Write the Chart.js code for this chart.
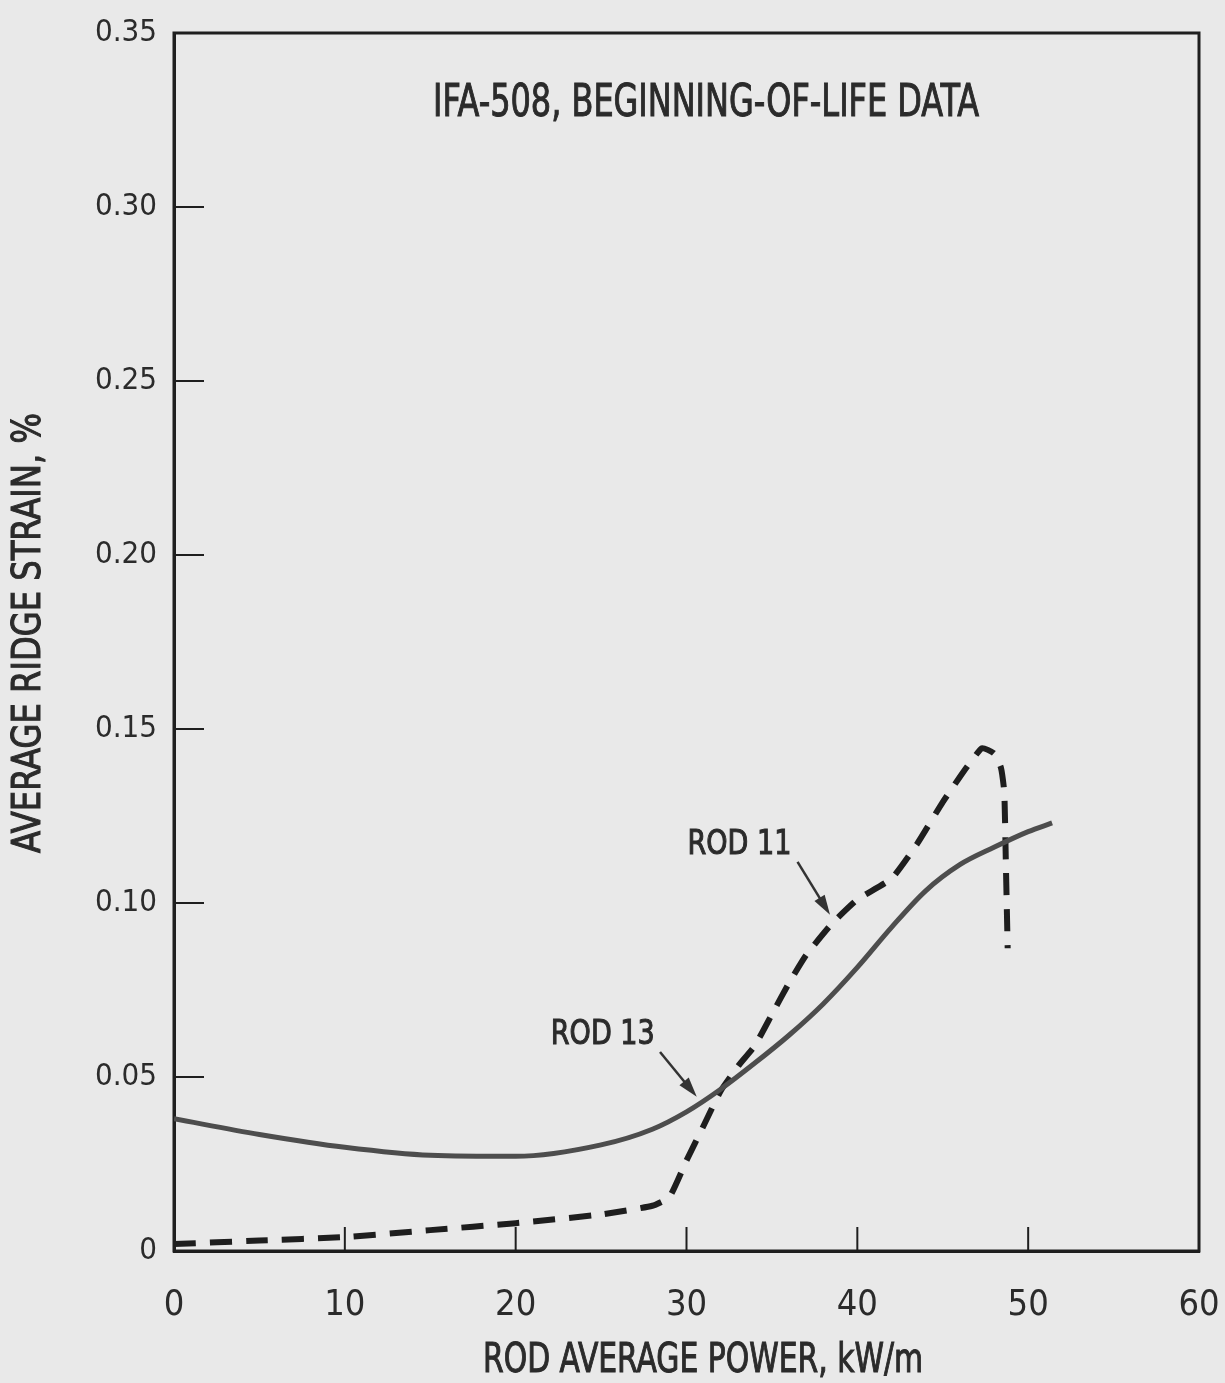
<!DOCTYPE html>
<html>
<head>
<meta charset="utf-8">
<script src="https://cdn.jsdelivr.net/npm/chart.js@4/dist/chart.umd.min.js"></script>
<style>
  body { margin: 0; background: #e9e9e9; }
  canvas { display: block; }
</style>
</head>
<body>
<canvas id="myChart" width="1225" height="1383"></canvas>
<script>
// values (power in kW/m, strain in %)
var rod13Power  = [0, 5, 10, 15, 20, 25, 28, 30, 32, 34, 36, 38, 40, 42, 44, 46, 48, 50, 51.4];
var rod13Strain = [0.038, 0.0335, 0.0298, 0.0275, 0.0272, 0.0305, 0.035, 0.040, 0.0465, 0.054, 0.062, 0.071, 0.0815, 0.093, 0.1035, 0.111, 0.116, 0.1205, 0.123];

var rod11Power  = [0, 5, 10, 15, 20, 25, 28, 29, 30, 31, 32, 33, 34, 35, 36, 37, 38.5, 40, 42, 43.5, 45, 46.4, 47.3, 48, 48.4, 48.6, 48.7, 48.8];
var rod11Strain = [0.002, 0.003, 0.004, 0.006, 0.008, 0.0105, 0.013, 0.0155, 0.026, 0.036, 0.046, 0.053, 0.059, 0.068, 0.077, 0.085, 0.094, 0.101, 0.107, 0.117, 0.129, 0.139, 0.1445, 0.143, 0.139, 0.132, 0.11, 0.087];

var xTicks = [0, 10, 20, 30, 40, 50, 60];
var yTicks = [0, 0.05, 0.10, 0.15, 0.20, 0.25, 0.30, 0.35];

var chartTitle = 'IFA-508, BEGINNING-OF-LIFE DATA';
var xTitle = 'ROD AVERAGE POWER, kW/m';
var yTitle = 'AVERAGE RIDGE STRAIN, %';

function toPoints(xs, ys) {
    return xs.map(function(x, i) { return { x: x, y: ys[i] }; });
}

var narrow = '"Liberation Sans Narrow", "DejaVu Sans Condensed", sans-serif';

// text squeezed to a given width, a bit heavier like the scan
function fitText(ctx, text, cx, cy, size, width, angle) {
    ctx.save();
    ctx.font = size + 'px ' + narrow;
    ctx.fillStyle = '#2b2b2b';
    ctx.strokeStyle = '#2b2b2b';
    ctx.lineWidth = 1;
    ctx.textAlign = 'center';
    ctx.textBaseline = 'middle';
    var w = ctx.measureText(text).width;
    ctx.translate(cx, cy);
    if (angle) ctx.rotate(angle);
    ctx.scale(width / w, 1);
    ctx.fillText(text, 0, 0);
    ctx.strokeText(text, 0, 0);
    ctx.restore();
}

function arrow(ctx, x1, y1, x2, y2) {
    var a = Math.atan2(y2 - y1, x2 - x1);
    ctx.save();
    ctx.strokeStyle = '#333';
    ctx.fillStyle = '#333';
    ctx.lineWidth = 2.5;
    ctx.beginPath();
    ctx.moveTo(x1, y1);
    ctx.lineTo(x2 - 14 * Math.cos(a), y2 - 14 * Math.sin(a));
    ctx.stroke();
    ctx.beginPath();
    ctx.moveTo(x2, y2);
    ctx.lineTo(x2 - 20 * Math.cos(a) + 6 * Math.sin(a), y2 - 20 * Math.sin(a) - 6 * Math.cos(a));
    ctx.lineTo(x2 - 20 * Math.cos(a) - 6 * Math.sin(a), y2 - 20 * Math.sin(a) + 6 * Math.cos(a));
    ctx.closePath();
    ctx.fill();
    ctx.restore();
}

var framePlugin = {
    id: 'frame',
    beforeDraw: function(chart) {
        var ctx = chart.ctx;
        ctx.save();
        ctx.fillStyle = '#e9e9e9';
        ctx.fillRect(0, 0, chart.width, chart.height);
        ctx.restore();
    },
    beforeDatasetsDraw: function(chart) {
        var ctx = chart.ctx, a = chart.chartArea;
        var xs = chart.scales.x, ys = chart.scales.y;
        ctx.save();
        ctx.strokeStyle = '#1f1f1f';
        ctx.lineWidth = 3;
        ctx.strokeRect(a.left, a.top, a.right - a.left, a.bottom - a.top);
        // inward ticks
        ctx.lineWidth = 2;
        yTicks.slice(1, -1).forEach(function(v) {
            var py = ys.getPixelForValue(v);
            ctx.beginPath();
            ctx.moveTo(a.left, py);
            ctx.lineTo(a.left + 30, py);
            ctx.stroke();
        });
        xTicks.slice(1, -1).forEach(function(v) {
            var px = xs.getPixelForValue(v);
            ctx.beginPath();
            ctx.moveTo(px, a.bottom);
            ctx.lineTo(px, a.bottom - 24);
            ctx.stroke();
        });
        ctx.restore();
    },
    afterDatasetsDraw: function(chart) {
        var ctx = chart.ctx;
        var xs = chart.scales.x, ys = chart.scales.y;
        function px(v) { return xs.getPixelForValue(v); }
        function py(v) { return ys.getPixelForValue(v); }

        fitText(ctx, chartTitle, 706, 105, 44, 546, 0);
        fitText(ctx, xTitle, 703, 1361, 41, 440, 0);
        fitText(ctx, yTitle, 30, 633, 39, 440, -Math.PI / 2);

        fitText(ctx, 'ROD 11', px(33.1), py(0.1167), 34, 104, 0);
        arrow(ctx, px(36.5), py(0.1118), px(38.4), py(0.0966));
        fitText(ctx, 'ROD 13', px(25.1), py(0.0621), 34, 104, 0);
        arrow(ctx, px(28.45), py(0.0572), px(30.6), py(0.0443));
    }
};

var ctx = document.getElementById('myChart');
var chart = new Chart(ctx, {
    type: 'scatter',
    data: {
        datasets: [{
            label: 'ROD 13',
            data: toPoints(rod13Power, rod13Strain),
            showLine: true,
            borderColor: '#4d4d4d',
            borderWidth: 5,
            pointRadius: 0,
            cubicInterpolationMode: 'monotone'
        }, {
            label: 'ROD 11',
            data: toPoints(rod11Power, rod11Strain),
            showLine: true,
            borderColor: '#1e1e1e',
            borderWidth: 6,
            borderDash: [22, 14],
            pointRadius: 0,
            tension: 0.15
        }]
    },
    plugins: [framePlugin],
    options: {
        responsive: false,
        animation: false,
        layout: { padding: { left: 0, top: 33, right: 26, bottom: 0 } },
        plugins: {
            legend: { display: false },
            tooltip: { enabled: false }
        },
        scales: {
            x: {
                type: 'linear',
                min: 0,
                max: 60,
                afterFit: function(s) { s.height = 132; s.paddingLeft = 0; s.paddingRight = 0; },
                afterBuildTicks: function(s) { s.ticks = xTicks.map(function(v) { return { value: v }; }); },
                grid: { display: false, drawTicks: false },
                border: { display: true, color: '#1f1f1f', width: 3 },
                ticks: {
                    color: '#2b2b2b',
                    padding: 33,
                    maxRotation: 0,
                    font: { family: narrow, size: 36 }
                }
            },
            y: {
                min: 0,
                max: 0.35,
                afterFit: function(s) { s.width = 174; s.paddingTop = 0; s.paddingBottom = 0; },
                afterBuildTicks: function(s) { s.ticks = yTicks.map(function(v) { return { value: v }; }); },
                grid: { display: false, drawTicks: false },
                border: { display: true, color: '#1f1f1f', width: 3 },
                ticks: {
                    color: '#2b2b2b',
                    padding: 17,
                    font: { family: '"DejaVu Sans Condensed", "DejaVu Sans", sans-serif', size: 31 },
                    callback: function(v) { return v === 0 ? '0' : v.toFixed(2); }
                }
            }
        }
    }
});
</script>
</body>
</html>
